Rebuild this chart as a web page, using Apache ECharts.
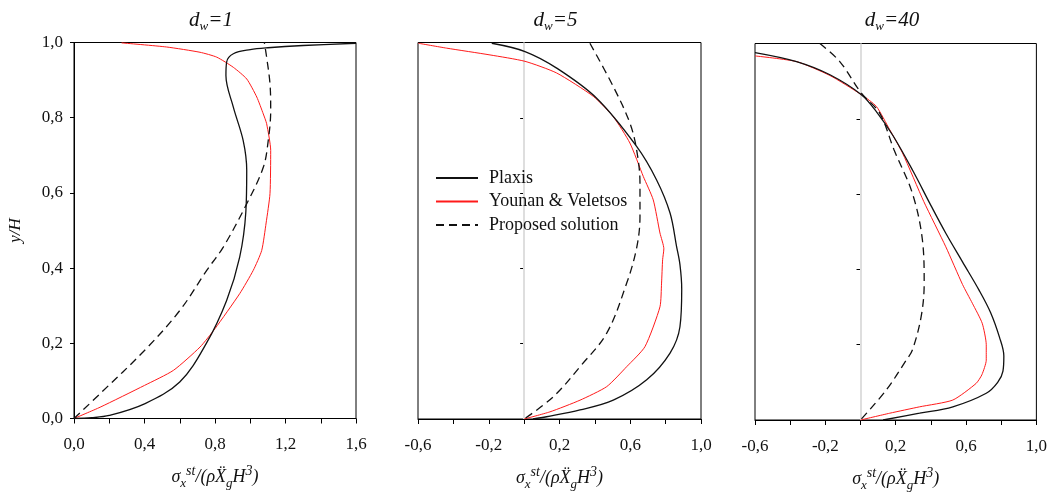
<!DOCTYPE html>
<html>
<head>
<meta charset="utf-8">
<script src="https://cdn.jsdelivr.net/npm/echarts@6/dist/echarts.min.js"></script>
<style>
  html, body { margin: 0; padding: 0; background: #fff; }
  #main { width: 1050px; height: 501px; }
</style>
</head>
<body>
<div id="main"></div>
<script>
// panel titles (d_w value)
const PANEL_DW = ['1', '5', '40'];
const SERIES_NAMES = ['Plaxis', 'Younan & Veletsos', 'Proposed solution'];

// d_w = 1   [sigma, y/H]
const plaxis1 = [[0, 0], [0.1, 0.002], [0.2, 0.008], [0.4, 0.039], [0.6, 0.097], [0.75, 0.199], [0.866, 0.314],
  [0.94, 0.429], [0.975, 0.55], [0.98, 0.66], [0.96, 0.739], [0.904, 0.828], [0.862, 0.912], [0.866, 0.948],
  [0.904, 0.970], [1.0, 0.981], [1.1, 0.986], [1.3, 0.992], [1.6, 0.998]];
const younan1 = [[0, 0], [0.148, 0.03], [0.4, 0.088], [0.564, 0.128], [0.715, 0.19], [0.8, 0.239], [0.94, 0.332],
  [1.017, 0.394], [1.065, 0.447], [1.09, 0.52], [1.112, 0.598], [1.116, 0.713], [1.093, 0.784], [1.074, 0.81],
  [1.037, 0.855], [0.98, 0.903], [0.904, 0.934], [0.81, 0.961], [0.715, 0.974], [0.526, 0.988], [0.27, 0.999]];
const proposed1 = [[0, 0], [0.148, 0.066], [0.4, 0.181], [0.6, 0.287], [0.753, 0.394], [0.847, 0.456], [0.98, 0.571],
  [1.074, 0.668], [1.102, 0.739], [1.116, 0.819], [1.112, 0.89], [1.093, 0.961], [1.08, 1.0]];

// d_w = 5
const plaxis5 = [[-0.183, 0.998], [0.005, 0.976], [0.184, 0.932], [0.41, 0.852], [0.636, 0.724], [0.749, 0.635],
  [0.825, 0.547], [0.862, 0.458], [0.881, 0.41], [0.891, 0.345], [0.881, 0.245], [0.825, 0.175], [0.693, 0.104],
  [0.504, 0.05], [0.316, 0.024], [0.127, 0.006], [0.05, 0]];
const younan5 = [[-0.598, 0.998], [-0.438, 0.985], [-0.193, 0.967], [0.005, 0.95], [0.184, 0.919], [0.391, 0.857],
  [0.504, 0.803], [0.598, 0.733], [0.674, 0.644], [0.73, 0.582], [0.768, 0.494], [0.79, 0.452], [0.783, 0.423],
  [0.777, 0.361], [0.768, 0.298], [0.683, 0.192], [0.58, 0.139], [0.467, 0.086], [0.316, 0.05], [0.146, 0.019], [0, 0]];
const proposed5 = [[0.372, 0.998], [0.504, 0.883], [0.598, 0.786], [0.636, 0.715], [0.655, 0.626], [0.655, 0.538],
  [0.636, 0.454], [0.58, 0.361], [0.467, 0.228], [0.316, 0.139], [0.165, 0.059], [0, 0]];

// d_w = 40
const plaxis40 = [[-0.6, 0.976], [-0.364, 0.952], [-0.174, 0.917], [0.005, 0.864], [0.09, 0.819], [0.185, 0.755],
  [0.3, 0.66], [0.4, 0.57], [0.485, 0.496], [0.58, 0.42], [0.674, 0.345], [0.74, 0.285], [0.79, 0.22], [0.815, 0.17],
  [0.81, 0.13], [0.78, 0.1], [0.715, 0.071], [0.525, 0.035], [0.336, 0.018], [0.128, 0]];
const younan40 = [[-0.6, 0.967], [-0.364, 0.952], [-0.174, 0.915], [0.005, 0.864], [0.09, 0.833], [0.166, 0.771],
  [0.239, 0.709], [0.36, 0.58], [0.485, 0.46], [0.58, 0.36], [0.636, 0.31], [0.692, 0.257], [0.715, 0.2],
  [0.715, 0.159], [0.69, 0.12], [0.657, 0.097], [0.525, 0.053], [0.336, 0.035], [0.166, 0.018], [0, 0]];
const proposed40 = [[-0.231, 1.0], [-0.118, 0.952], [0.005, 0.868], [0.109, 0.815], [0.191, 0.717], [0.295, 0.602],
  [0.352, 0.478], [0.362, 0.363], [0.345, 0.275], [0.295, 0.186], [0.26, 0.159], [0.147, 0.08], [0, 0]];

// axis ranges
const X_MIN = [0, -0.6, -0.6];
const X_MAX = [1.6, 1.0, 1.0];

const PANEL_DATA = [
  [plaxis1, younan1, proposed1],
  [plaxis5, younan5, proposed5],
  [plaxis40, younan40, proposed40]
];

const SERIF = '"Liberation Serif", "DejaVu Serif", serif';
const GRIDS = [
  {left: 74, top: 42.5, width: 282, height: 376},
  {left: 418, top: 42.5, width: 283, height: 376.5},
  {left: 755, top: 43.5, width: 282, height: 376.5}
];

const comma = v => v.toFixed(1).replace('.', ',');

const xName = '{i|σ}{sub|x}{sup|st}{i|/(ρẌ}{sub|g}{i|H}{sup|3}{i|)}';
const nameRich = {
  i: {fontFamily: SERIF, fontStyle: 'italic', fontSize: 18, color: '#111', lineHeight: 26},
  sub: {fontFamily: SERIF, fontStyle: 'italic', fontSize: 13, color: '#111', lineHeight: 12, verticalAlign: 'bottom'},
  sup: {fontFamily: SERIF, fontStyle: 'italic', fontSize: 14, color: '#111', lineHeight: 13, verticalAlign: 'top'}
};

const chart = echarts.init(document.getElementById('main'));

const grid = GRIDS.map(g => Object.assign({show: true, borderColor: '#000', borderWidth: 1, backgroundColor: 'transparent'}, g));

const xAxis = GRIDS.map((g, i) => ({
  type: 'value',
  gridIndex: i,
  min: X_MIN[i],
  max: X_MAX[i],
  interval: 0.2,
  name: xName,
  nameLocation: 'middle',
  nameGap: 46,
  nameTextStyle: {rich: nameRich},
  axisLine: {lineStyle: {color: '#000', width: 1}},
  axisTick: {inside: false, length: 5, lineStyle: {color: '#000'}},
  axisLabel: {
    margin: 18,
    fontFamily: SERIF,
    fontSize: 17,
    color: '#111',
    // label every second tick (0.4 steps)
    formatter: v => Math.round((v - X_MIN[i]) / 0.2) % 2 === 0 ? comma(v) : ''
  },
  splitLine: {show: false}
}));

const yAxis = GRIDS.map((g, i) => ({
  type: 'value',
  gridIndex: i,
  min: 0,
  max: 1,
  interval: 0.2,
  name: i === 0 ? '{i|y/H}' : '',
  nameLocation: 'middle',
  nameGap: 50,
  nameTextStyle: {rich: {i: {fontFamily: SERIF, fontStyle: 'italic', fontSize: 17, color: '#111'}}},
  axisLine: {lineStyle: {color: '#000', width: 1}},
  axisTick: {inside: false, length: 4, lineStyle: {color: '#000'}},
  axisLabel: {
    show: i === 0,
    margin: 11,
    fontFamily: SERIF,
    fontSize: 17,
    color: '#111',
    formatter: comma
  },
  splitLine: {show: false}
}));

const series = [];
PANEL_DATA.forEach((set, i) => {
  set.forEach((data, k) => {
    const s = {
      name: SERIES_NAMES[k],
      type: 'line',
      xAxisIndex: i,
      yAxisIndex: i,
      data: data,
      symbol: 'none',
      smooth: k === 1 ? 0.2 : 0.35,
      silent: true,
      animation: false,
      z: k === 0 ? 4 : 3,
      lineStyle: [
        {color: '#111', width: 1.3, type: 'solid'},
        {color: '#ff1a1a', width: 1, type: 'solid'},
        {color: '#111', width: 1.3, type: [8, 5]}
      ][k],
      itemStyle: {color: k === 1 ? '#ff1a1a' : '#111'}
    };
    // light gray reference line at zero for the two right panels
    if (k === 0 && X_MIN[i] < 0) {
      s.markLine = {
        silent: true,
        symbol: 'none',
        label: {show: false},
        lineStyle: {color: '#dedede', width: 2, type: 'solid', opacity: 1},
        emphasis: {disabled: true},
        data: [{xAxis: 0}],
        z: 1
      };
    }
    series.push(s);
  });
});

// panel titles d_w=...
const graphic = PANEL_DW.map((dw, i) => ({
  type: 'text',
  x: GRIDS[i].left + GRIDS[i].width / 2 - 4,
  y: 20,
  silent: true,
  style: {
    text: '{i|d}{sub|w}{i|=' + dw + '}',
    align: 'center',
    verticalAlign: 'middle',
    rich: {
      i: {fontFamily: SERIF, fontStyle: 'italic', fontSize: 21, fill: '#111', lineHeight: 26},
      sub: {fontFamily: SERIF, fontStyle: 'italic', fontSize: 13, fill: '#111', lineHeight: 12, verticalAlign: 'bottom'}
    }
  }
}));

chart.setOption({
  animation: false,
  backgroundColor: '#fff',
  grid,
  xAxis,
  yAxis,
  series,
  graphic,
  legend: {
    data: SERIES_NAMES,
    orient: 'vertical',
    left: 430,
    top: 164,
    itemWidth: 42,
    itemHeight: 4,
    itemGap: 5.5,
    selectedMode: false,
    itemStyle: {opacity: 0},
    textStyle: {fontFamily: SERIF, fontSize: 18, color: '#111', padding: [0, 0, 0, 6]}
  }
});
</script>
</body>
</html>
